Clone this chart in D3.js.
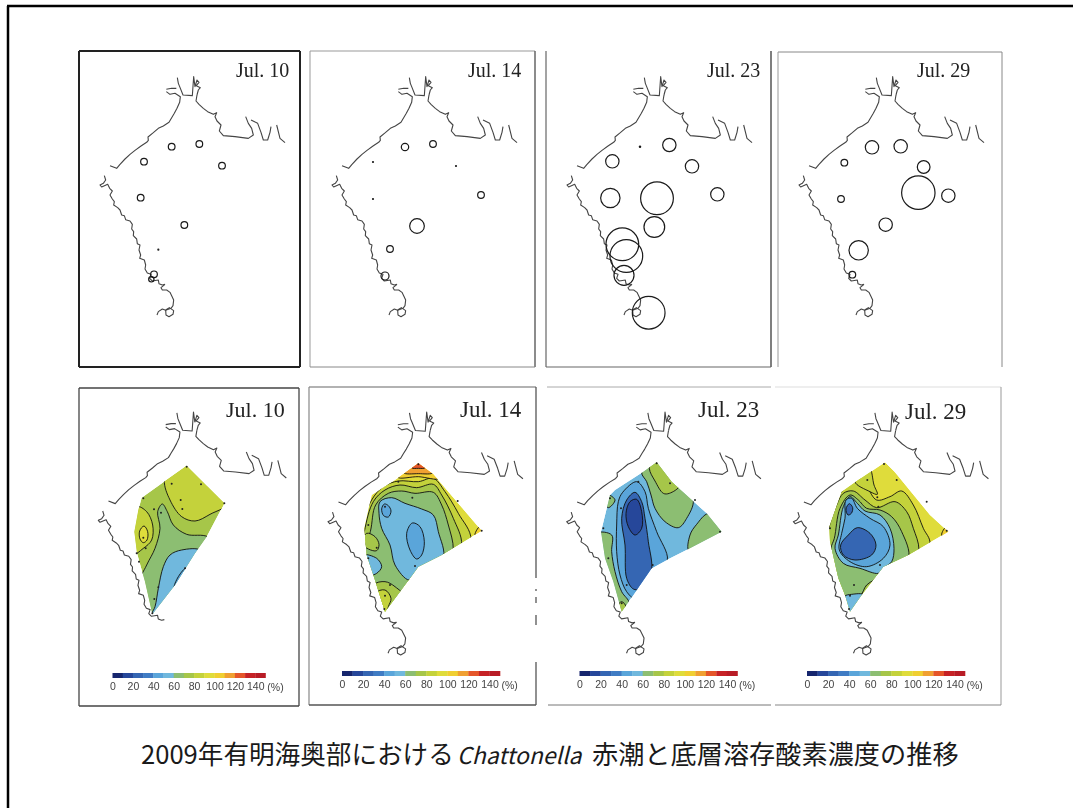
<!DOCTYPE html>
<html>
<head>
<meta charset="utf-8">
<script src="https://cdn.jsdelivr.net/npm/d3@7"></script>
<style>
	html, body { margin: 0; padding: 0; background: #fff; }
	svg { display: block; }
	.coast { fill: none; stroke: #444; stroke-width: 1.1; stroke-linejoin: round; }
	.cell { fill: none; stroke: #1a1a1a; stroke-width: 1.2; }
	.contour { stroke: #111; stroke-width: 0.9; }
	.station { fill: #222; }
	.date { font-family: 'Liberation Serif', serif; fill: #222; }
	.key text, .key-unit { font-family: 'Liberation Sans', sans-serif; font-size: 10.5px; fill: #444; }
	.title { font-family: 'Noto Sans CJK JP', sans-serif; fill: #1a1a1a; }
</style>
</head>
<body>
<div id="chart"></div>
<script>
// Coast lines, in map units
var coastNorthWest = [[105,362],[125,370],[135,358],[150,342],[165,328],[180,316],[198,303],[215,292],[220,286],[219,276],[235,263],[250,250],[265,243],[282,232],[290,218],[298,205],[306,190],[314,172],[316,155],[300,145],[285,148],[274,140]];
var coastBranchA = [[274,133],[290,130],[304,130]];
var coastBranchB = [[307,98],[310,115],[314,125],[324,150],[352,152],[356,95],[360,125],[366,105],[372,112],[364,122],[376,128],[370,135],[366,150]];
var coastEast = [[366,150],[363,168],[372,178],[385,190],[398,200],[415,208],[425,203],[420,215],[426,228],[438,240],[433,258],[445,272],[480,275],[520,280],[535,270],[530,250],[520,235],[512,215]];
var coastInletA = [[528,225],[548,235],[558,262],[565,285],[578,285],[585,262],[588,245]];
var coastInletB = [[605,240],[615,280],[630,293]];
var coastSouthWest = [[88,392],[92,405],[85,415],[75,420],[80,426],[98,418],[104,430],[112,438],[105,450],[112,462],[118,470],[116,480],[128,488],[135,495],[140,510],[148,512],[152,524],[165,528],[172,538],[170,552],[176,560],[175,572],[185,582],[187,596],[195,600],[192,615],[197,630],[194,640],[208,645],[212,660],[210,672],[217,684],[228,688],[224,700],[232,708],[250,705],[252,716],[262,720],[270,718]];
var coastTail = [[270,718],[258,728],[262,735],[275,735],[285,742],[290,752],[296,765],[294,782],[288,790],[272,796],[262,792],[250,800],[246,810]];
var coastLoop = [[272,795],[283,788],[296,797],[294,808],[282,815],[273,810],[272,795]];

// Red tide cell circles: map x, map y, size
var cellsJul10 = [[290,305,10],[373,297,10],[207,350,10],[441,362,10],[197,458,10],[328,540,10],[250,614,1.5],[237,688,10],[229,703,8]];
var cellsJul14 = [[294,306,11],[378,297,10],[198,351,1.5],[447,363,1.5],[522,450,10],[198,462,1.5],[330,543,22],[249,612,10],[234,693,12]];
var cellsJul23 = [[294,305,2],[382,300,20],[211,349,20],[450,364,20],[526,448,20],[205,459,29],[345,460,49],[337,546,31],[253,633,49],[241,598,49],[246,691,30],[320,803,49]];
var cellsJul29 = [[294,307,20],[380,304,20],[211,353,10],[449,366,19],[523,452,20],[201,462,10],[433,443,50],[335,539,20],[254,616,29],[235,689,10]];

// Survey area outline for each bottom oxygen map
var areaJul10 = [[335,242],[448,355],[395,455],[360,505],[300,600],[232,688],[210,590],[186,505],[178,440],[190,375],[200,338],[265,292]];
var areaJul14 = [[340,235],[385,268],[530,437],[410,510],[340,545],[315,580],[240,680],[205,570],[185,510],[178,430],[200,330],[270,285]];
var areaJul23 = [[350,232],[395,290],[500,385],[545,440],[450,490],[380,525],[335,550],[280,630],[245,680],[220,590],[195,520],[183,440],[210,330],[225,315],[310,260]];
var areaJul29 = [[345,232],[375,262],[480,390],[535,440],[415,510],[340,545],[275,630],[240,680],[225,630],[205,580],[180,470],[178,425],[215,320],[265,285],[300,262]];

// Oxygen saturation: base value of each map, then bands painted in order
var baseJul10 = 75;
var bandsJul10 = [
	{ value: 85, points: [[268,285],[285,345],[320,395],[360,408],[405,388],[470,345],[400,200],[300,200]] },
	{ value: 65, points: [[262,357],[277,380],[295,420],[335,448],[400,456],[450,520],[300,720],[212,700],[190,600],[215,540],[240,490],[255,430],[248,380]] },
	{ value: 52, points: [[380,497],[320,495],[285,510],[265,545],[250,610],[240,665],[225,700],[300,680],[400,560]] },
	{ value: 45, points: [[298,608],[310,575],[335,548],[345,560],[320,600]] },
	{ value: 85, points: [[185,365],[215,380],[233,420],[230,465],[205,490],[170,510],[150,440]] },
	{ value: 95, points: [[207,423],[218,440],[216,465],[205,473],[195,462],[194,438]] }
];

var baseJul14 = 95;
var bandsJul14 = [
	{ value: 85, points: [[170,430],[200,345],[235,305],[280,288],[340,290],[385,280],[420,320],[460,385],[498,465],[420,600],[240,720],[160,600]] },
	{ value: 75, points: [[178,440],[205,350],[240,315],[285,300],[335,308],[385,298],[410,330],[445,400],[470,480],[420,600],[240,720],[160,600]] },
	{ value: 65, points: [[196,440],[212,360],[250,325],[290,318],[330,325],[385,322],[410,360],[430,420],[445,495],[420,600],[260,720],[160,560]] },
	{ value: 75, points: [[210,455],[222,478],[215,497],[190,492],[170,475],[185,445]] },
	{ value: 55, points: [[172,510],[215,520],[230,545],[215,565],[195,570],[170,540]] },
	{ value: 52, points: [[225,350],[260,338],[300,355],[350,372],[385,390],[400,440],[414,520],[340,560],[312,585],[270,540],[255,480],[230,430],[222,385]] },
	{ value: 45, points: [[238,357],[250,362],[258,378],[250,396],[236,392],[230,372]] },
	{ value: 45, points: [[322,414],[345,425],[358,470],[350,510],[335,522],[315,495],[305,445]] },
	{ value: 75, points: [[205,600],[240,590],[270,605],[300,640],[240,720],[190,680]] },
	{ value: 85, points: [[210,625],[240,615],[258,640],[250,665],[240,700],[205,680]] },
	{ value: 105, points: [[278,276],[340,275],[402,280],[340,200]] },
	{ value: 115, points: [[295,262],[340,266],[385,262],[340,200]] },
	{ value: 125, points: [[320,248],[340,250],[360,248],[340,215]] },
	{ value: 105, points: [[510,450],[530,420],[550,440],[530,460]] }
];

var baseJul23 = 52;
var bandsJul23 = [
	{ value: 65, points: [[305,262],[320,290],[333,330],[345,370],[375,410],[415,428],[440,400],[460,345],[420,280],[350,200]] },
	{ value: 75, points: [[328,250],[345,288],[370,325],[388,325],[420,300],[400,220],[340,210]] },
	{ value: 65, points: [[505,385],[470,418],[450,450],[448,500],[570,470],[560,400]] },
	{ value: 65, points: [[170,445],[215,450],[215,500],[225,560],[245,620],[268,655],[245,700],[210,620],[170,520]] },
	{ value: 75, points: [[245,650],[258,665],[245,695],[232,665]] },
	{ value: 65, points: [[205,330],[225,345],[205,368],[190,345]] },
	{ value: 42, points: [[248,322],[290,290],[315,320],[325,370],[350,440],[382,525],[340,570],[285,640],[260,620],[240,570],[230,500],[230,420],[235,350]] },
	{ value: 28, points: [[260,345],[285,322],[305,350],[315,400],[325,470],[334,560],[300,612],[280,612],[260,580],[255,480],[245,400]] },
	{ value: 18, points: [[270,350],[290,343],[305,380],[305,430],[285,450],[265,425],[258,385]] }
];

var baseJul29 = 95;
var bandsJul29 = [
	{ value: 85, points: [[150,470],[190,370],[215,320],[265,280],[290,305],[320,345],[360,335],[395,318],[430,360],[460,430],[480,475],[420,600],[300,720],[160,650]] },
	{ value: 85, points: [[255,290],[298,250],[312,300],[322,328],[300,320]] },
	{ value: 75, points: [[170,460],[200,360],[220,325],[250,318],[285,345],[320,368],[375,350],[410,380],[430,430],[447,495],[420,600],[300,720],[160,650]] },
	{ value: 65, points: [[193,460],[210,370],[240,330],[265,345],[290,370],[330,375],[365,395],[395,440],[415,520],[340,570],[290,600],[270,632],[225,632],[190,550],[183,490]] },
	{ value: 52, points: [[205,450],[220,365],[240,335],[262,355],[285,378],[330,390],[360,430],[372,490],[365,530],[340,550],[325,565],[270,550],[220,535],[195,490]] },
	{ value: 42, points: [[228,345],[245,340],[262,370],[300,400],[340,425],[360,480],[340,520],[290,545],[240,530],[208,495],[215,445],[225,400]] },
	{ value: 25, points: [[235,450],[262,428],[300,445],[318,480],[305,510],[255,525],[220,510],[212,480]] },
	{ value: 25, points: [[238,356],[248,368],[244,385],[234,390],[228,372]] },
	{ value: 52, points: [[222,635],[245,628],[282,630],[240,700],[215,680]] },
	{ value: 105, points: [[515,450],[530,425],[550,440],[530,460]] }
];

// Survey stations on the oxygen maps
var stationsJul10 = [[335,245],[290,296],[378,298],[205,340],[237,373],[258,383],[317,345],[322,372],[448,355],[205,458],[185,505],[192,530],[212,490],[250,607],[238,642],[232,685],[330,550]];
var stationsJul14 = [[340,238],[280,290],[322,338],[458,348],[240,365],[190,420],[215,488],[190,520],[330,543],[255,600],[240,632],[238,672],[530,437]];
var stationsJul23 = [[350,235],[295,290],[390,295],[465,345],[243,370],[210,340],[205,520],[338,540],[260,600],[245,655],[540,440],[190,430]];
var stationsJul29 = [[342,237],[292,285],[380,285],[322,337],[325,365],[470,350],[180,430],[330,540],[252,600],[240,632],[237,672],[530,437]];

// Colour key
var keyValues = [0,10,20,30,40,50,60,70,80,90,100,110,120,130,140];
var keyColors = ['#13266e','#27479a','#3566b3','#3f7cc4','#5aa5da','#6fb8dd','#8cbe72','#a6c64a','#c4d23a','#dfdc3a','#f0cf30','#f0a030','#e5572c','#c62027','#b81e26'];
var keyTicks = [0,20,40,60,80,100,120,140];

var titleParts = ['2009年有明海奥部における', 'Chattonella', '赤潮と底層溶存酸素濃度の推移'];

var WIDTH = 1073;
var HEIGHT = 808;

var colorScale = d3.scaleThreshold()
	.domain(keyValues.slice(1))
	.range(keyColors);

var sizeScale = d3.scaleLinear().domain([0, 50]).range([0, 16.7]);

var svg = d3.select('#chart')
	.append('svg')
	.attr('width', WIDTH)
	.attr('height', HEIGHT);

// slight softness of the scanned original
svg.append('filter')
	.attr('id', 'scan')
	.append('feGaussianBlur')
	.attr('stdDeviation', 0.4);

var coastLine = d3.line()
	.x(function(d) { return d.x; })
	.y(function(d) { return d.y; });

var bandLine = d3.line()
	.curve(d3.curveCatmullRomClosed.alpha(0.5))
	.x(function(d) { return d.x; })
	.y(function(d) { return d.y; });

var areaLine = d3.line()
	.curve(d3.curveLinearClosed)
	.x(function(d) { return d.x; })
	.y(function(d) { return d.y; });

var projectAll = function(points, xScale, yScale) {
	return points.map(function(p) {
		return { x: xScale(p[0]), y: yScale(p[1]) };
	});
};

/*
 * Panel outlines. Some sides are faint or broken in the scan.
 */
var frameSegments = [
	// outer page frame
	[7, 6, 1073, 6, '#000', 2.5], [8, 6, 8, 808, '#000', 2.5],
	// top row
	[79, 51, 300, 51, '#222', 2], [79, 51, 79, 367, '#222', 2], [300, 51, 300, 367, '#222', 2], [79, 367, 300, 367, '#222', 2],
	[310, 51, 535, 51, '#999', 1], [310, 51, 310, 367, '#999', 1], [535, 51, 535, 367, '#666', 1.5], [310, 367, 535, 367, '#888', 1],
	[546, 51, 546, 367, '#666', 1.2], [771, 51, 771, 367, '#555', 1.5], [546, 367, 771, 367, '#666', 1.2],
	[778, 52, 1002, 52, '#888', 1], [778, 52, 778, 367, '#999', 1], [1002, 52, 1002, 367, '#888', 1],
	// bottom row
	[79, 388, 299, 388, '#444', 1.3], [79, 388, 79, 706, '#444', 1.3], [299, 388, 299, 706, '#444', 1.3], [79, 706, 299, 706, '#444', 1.3],
	[309, 387, 536, 387, '#666', 1.2], [309, 387, 309, 705, '#888', 1.2], [309, 705, 536, 705, '#555', 1.3],
	[536, 387, 536, 578, '#555', 1.3], [536, 589, 536, 591, '#555', 1.3], [536, 597, 536, 603, '#555', 1.3], [536, 615, 536, 625, '#555', 1.3], [536, 662, 536, 705, '#555', 1.3],
	[547, 387, 771, 387, '#aaa', 1], [548, 705, 771, 705, '#777', 1],
	[775, 387, 1001, 387, '#ddd', 1], [1001, 387, 1001, 705, '#999', 1], [775, 705, 1001, 705, '#888', 1.2]
];

svg.append('g')
	.attr('class', 'frames')
	.selectAll('line')
	.data(frameSegments)
	.enter()
	.append('line')
	.attr('x1', function(d) { return d[0]; })
	.attr('y1', function(d) { return d[1]; })
	.attr('x2', function(d) { return d[2]; })
	.attr('y2', function(d) { return d[3]; })
	.attr('stroke', function(d) { return d[4]; })
	.attr('stroke-width', function(d) { return d[5]; });

/*
 * Draw the coast of one panel.
 */
var renderCoast = function(g, xScale, yScale, withTail) {
	var lines = [coastNorthWest, coastBranchA, coastBranchB, coastEast, coastInletA, coastInletB, coastSouthWest];
	if (withTail) {
		lines = lines.concat([coastTail, coastLoop]);
	}

	g.selectAll('path.coast')
		.data(lines)
		.enter()
		.append('path')
		.attr('class', 'coast')
		.attr('d', function(d) {
			return coastLine(projectAll(d, xScale, yScale));
		});
};

/*
 * Top row: red tide circles.
 */
var renderCellPanel = function(config) {
	var g = svg.append('g').attr('class', 'cell-panel').attr('filter', 'url(#scan)');
	var xScale = d3.scaleLinear().domain([0, 705]).range([75 + config.dx, 310 + config.dx]);
	var yScale = d3.scaleLinear().domain([0, 990]).range([45, 375]);

	renderCoast(g, xScale, yScale, true);

	g.selectAll('circle.cell')
		.data(config.cells)
		.enter()
		.append('circle')
		.attr('class', 'cell')
		.attr('cx', function(d) { return xScale(d[0]); })
		.attr('cy', function(d) { return yScale(d[1]); })
		.attr('r', function(d) { return sizeScale(d[2]); });

	g.append('text')
		.attr('class', 'date')
		.attr('x', config.labelX)
		.attr('y', 77)
		.style('font-size', '20px')
		.text(config.label);
};

/*
 * Bottom row: oxygen map with filled bands and colour key.
 */
var renderOxygenPanel = function(config) {
	var g = svg.append('g').attr('class', 'oxygen-panel').attr('filter', 'url(#scan)');
	var coastX = d3.scaleLinear().domain([0, 705]).range(config.coastRange);
	var coastY = d3.scaleLinear().domain([0, 990]).range(config.coastYRange);
	var bandX = d3.scaleLinear().domain([0, 705]).range([config.ox, config.ox + 235]);
	var bandY = d3.scaleLinear().domain([0, 975]).range([385, 710]);

	renderCoast(g, coastX, coastY, config.tail);

	var clipId = 'clip-' + config.id;
	g.append('clipPath')
		.attr('id', clipId)
		.append('path')
		.attr('d', areaLine(projectAll(config.area, bandX, bandY)));

	var map = g.append('g').attr('clip-path', 'url(#' + clipId + ')');

	map.append('path')
		.attr('d', areaLine(projectAll(config.area, bandX, bandY)))
		.attr('fill', colorScale(config.base));

	map.selectAll('path.contour')
		.data(config.bands)
		.enter()
		.append('path')
		.attr('class', 'contour')
		.attr('fill', function(d) { return colorScale(d.value); })
		.attr('d', function(d) {
			return bandLine(projectAll(d.points, bandX, bandY));
		});

	g.selectAll('circle.station')
		.data(config.stations)
		.enter()
		.append('circle')
		.attr('class', 'station')
		.attr('cx', function(d) { return bandX(d[0]); })
		.attr('cy', function(d) { return bandY(d[1]); })
		.attr('r', 1);

	g.append('text')
		.attr('class', 'date')
		.attr('x', config.labelX)
		.attr('y', config.labelY)
		.style('font-size', config.labelSize + 'px')
		.text(config.label);

	// colour key
	var keyScale = d3.scaleLinear().domain([0, 150]).range(config.keyRange);

	g.selectAll('rect.key-step')
		.data(keyValues)
		.enter()
		.append('rect')
		.attr('class', 'key-step')
		.attr('x', function(d) { return keyScale(d); })
		.attr('y', config.keyY)
		.attr('width', function(d) { return keyScale(d === 140 ? 150 : d + 10) - keyScale(d) + 0.3; })
		.attr('height', 5)
		.attr('fill', function(d) { return colorScale(d); });

	var keyAxis = d3.axisBottom(keyScale)
		.tickValues(keyTicks)
		.tickSize(0)
		.tickPadding(0);

	var axisG = g.append('g')
		.attr('class', 'key')
		.attr('transform', 'translate(0,' + (config.keyY + 9.5) + ')')
		.call(keyAxis);

	axisG.select('.domain').remove();
	axisG.selectAll('text').attr('dy', '0.71em');

	g.append('text')
		.attr('class', 'key-unit')
		.attr('x', keyScale(140) + 12)
		.attr('y', config.keyY + 17.5)
		.text('(%)');
};

renderCellPanel({ dx: 0, cells: cellsJul10, label: 'Jul. 10', labelX: 236 });
renderCellPanel({ dx: 232, cells: cellsJul14, label: 'Jul. 14', labelX: 468 });
renderCellPanel({ dx: 467, cells: cellsJul23, label: 'Jul. 23', labelX: 707 });
renderCellPanel({ dx: 699, cells: cellsJul29, label: 'Jul. 29', labelX: 917 });

renderOxygenPanel({
	id: 'jul10', ox: 75, area: areaJul10, base: baseJul10, bands: bandsJul10, stations: stationsJul10, tail: false,
	coastRange: [72.9, 311.7], coastYRange: [380.3, 710.3],
	label: 'Jul. 10', labelX: 226, labelY: 417, labelSize: 22,
	keyRange: [112.5, 265.5], keyY: 673
});
renderOxygenPanel({
	id: 'jul14', ox: 305, area: areaJul14, base: baseJul14, bands: bandsJul14, stations: stationsJul14, tail: true,
	coastRange: [301.6, 549.3], coastYRange: [379.9, 714],
	label: 'Jul. 14', labelX: 460, labelY: 417, labelSize: 23,
	keyRange: [342, 500], keyY: 671
});
renderOxygenPanel({
	id: 'jul23', ox: 540, area: areaJul23, base: baseJul23, bands: bandsJul23, stations: stationsJul23, tail: true,
	coastRange: [540.4, 787.2], coastYRange: [379.9, 714],
	label: 'Jul. 23', labelX: 698, labelY: 417, labelSize: 23,
	keyRange: [579.5, 737.5], keyY: 671
});
renderOxygenPanel({
	id: 'jul29', ox: 770, area: areaJul29, base: baseJul29, bands: bandsJul29, stations: stationsJul29, tail: true,
	coastRange: [767, 1014.8], coastYRange: [379.9, 714],
	label: 'Jul. 29', labelX: 905, labelY: 419, labelSize: 23,
	keyRange: [807, 965], keyY: 671
});

/*
 * Caption. The three parts were set at slightly different sizes and are placed one by one.
 */
var titleSizes = [25.6, 23, 26.2];
var titleStarts = [141, 457, 592];

svg.append('g')
	.attr('class', 'title')
	.selectAll('text')
	.data(titleParts)
	.enter()
	.append('text')
	.attr('x', function(d, i) { return titleStarts[i]; })
	.attr('y', 764)
	.style('font-size', function(d, i) { return titleSizes[i] + 'px'; })
	.style('font-style', function(d, i) { return i === 1 ? 'italic' : 'normal'; })
	.text(function(d) { return d; });
</script>
</body>
</html>
